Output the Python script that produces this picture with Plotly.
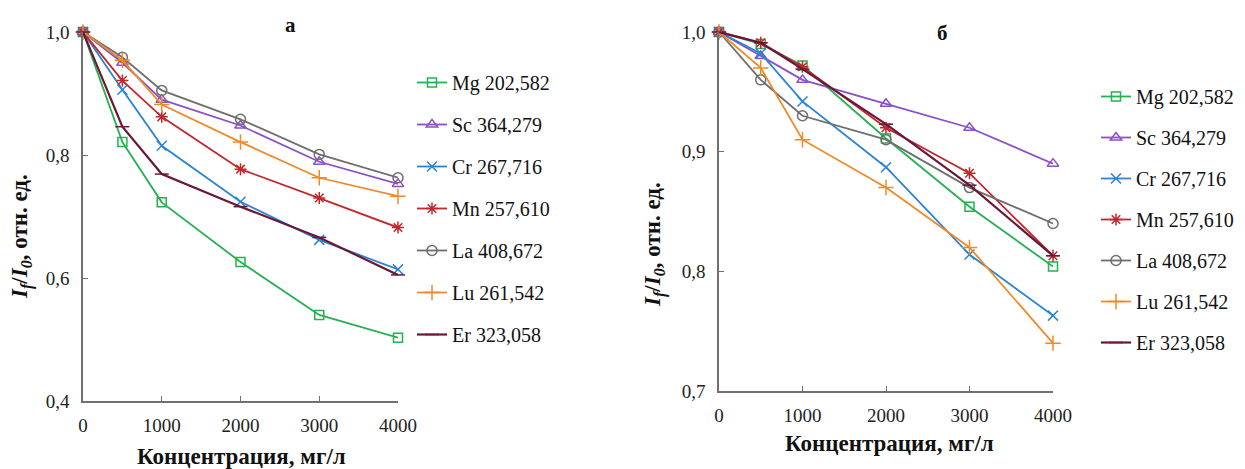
import plotly.graph_objects as go

conc = [0, 500, 1000, 2000, 3000, 4000]
names = ["Mg 202,582", "Sc 364,279", "Cr 267,716", "Mn 257,610", "La 408,672", "Lu 261,542", "Er 323,058"]

# panel a
a_Mg = [1.0, 0.821, 0.723, 0.626, 0.540, 0.503]
a_Sc = [1.0, 0.950, 0.890, 0.848, 0.789, 0.753]
a_Cr = [1.0, 0.906, 0.815, 0.724, 0.662, 0.614]
a_Mn = [1.0, 0.921, 0.862, 0.777, 0.730, 0.682]
a_La = [1.0, 0.959, 0.905, 0.858, 0.801, 0.763]
a_Lu = [1.0, 0.954, 0.882, 0.821, 0.763, 0.733]
a_Er = [1.0, 0.846, 0.769, 0.716, 0.666, 0.605]

# panel б
b_Mg = [1.0, 0.990, 0.972, 0.911, 0.854, 0.804]
b_Sc = [1.0, 0.980, 0.960, 0.940, 0.920, 0.890]
b_Cr = [1.0, 0.982, 0.942, 0.887, 0.814, 0.763]
b_Mn = [1.0, 0.991, 0.971, 0.920, 0.882, 0.813]
b_La = [1.0, 0.960, 0.930, 0.910, 0.870, 0.840]
b_Lu = [1.0, 0.970, 0.910, 0.870, 0.820, 0.740]
b_Er = [1.0, 0.991, 0.969, 0.923, 0.872, 0.813]

x_ticks = [0, 1000, 2000, 3000, 4000]
x_ticktext = ["0", "1000", "2000", "3000", "4000"]
a_yticks = [0.4, 0.6, 0.8, 1.0]
a_yticktext = ["0,4", "0,6", "0,8", "1,0"]
b_yticks = [0.7, 0.8, 0.9, 1.0]
b_yticktext = ["0,7", "0,8", "0,9", "1,0"]

colors = ["#25b14f", "#8b4fc6", "#2b84d2", "#c1272d", "#6e6e6e", "#f08a26", "#6b1738"]
symbols = ["square-open", "triangle-up-open", "x-thin-open", "asterisk-open",
           "circle-open", "cross-thin-open", "line-ew-open"]
sizes = [9, 10, 10, 10, 10, 11, 10]
lwidths = [1.8, 1.8, 1.8, 1.8, 1.8, 1.8, 2.2]

FONT = "Liberation Serif"
fig = go.Figure()

a_series = [a_Mg, a_Sc, a_Cr, a_Mn, a_La, a_Lu, a_Er]
b_series = [b_Mg, b_Sc, b_Cr, b_Mn, b_La, b_Lu, b_Er]

for i, (nm, ys) in enumerate(zip(names, a_series)):
    fig.add_trace(go.Scatter(
        x=conc, y=ys, name=nm, mode="lines+markers", xaxis="x", yaxis="y",
        line=dict(color=colors[i], width=lwidths[i]),
        marker=dict(symbol=symbols[i], size=sizes[i], color=colors[i],
                    line=dict(color=colors[i], width=1.5)),
        legend="legend", legendgroup="a" + str(i), cliponaxis=False))

for i, (nm, ys) in enumerate(zip(names, b_series)):
    fig.add_trace(go.Scatter(
        x=conc, y=ys, name=nm, mode="lines+markers", xaxis="x2", yaxis="y2",
        line=dict(color=colors[i], width=lwidths[i]),
        marker=dict(symbol=symbols[i], size=sizes[i], color=colors[i],
                    line=dict(color=colors[i], width=1.5)),
        legend="legend2", legendgroup="b" + str(i), cliponaxis=False))

# the page body margin is removed (see post_script), so the figure fills the window
W, H = 1245, 469

def px_x(p):
    return p / W

def px_y(p):
    return 1 - p / H

axis_common = dict(showgrid=False, zeroline=False, showline=True, linecolor="#707070",
                   linewidth=1.5, ticks="inside", ticklen=5, tickcolor="#707070",
                   automargin=False,
                   tickfont=dict(family=FONT, size=19, color="#222"), fixedrange=True)

fig.update_layout(
    template="none",
    width=W, height=H,
    margin=dict(l=0, r=0, t=0, b=0, autoexpand=False),
    paper_bgcolor="white", plot_bgcolor="white",
    font=dict(family=FONT, color="#111"),
    xaxis=dict(domain=[px_x(83), px_x(398)], range=[0, 4000], anchor="y",
               tickvals=x_ticks, ticktext=x_ticktext, ticklabelstandoff=6, **axis_common),
    yaxis=dict(domain=[px_y(401), px_y(32)], range=[0.4, 1.0], anchor="x",
               tickvals=a_yticks, ticktext=a_yticktext, ticklabelstandoff=8, **axis_common),
    xaxis2=dict(domain=[px_x(719), px_x(1053)], range=[0, 4000], anchor="y2",
                tickvals=x_ticks, ticktext=x_ticktext, ticklabelstandoff=6, **axis_common),
    yaxis2=dict(domain=[px_y(391), px_y(32)], range=[0.7, 1.0], anchor="x2",
                tickvals=b_yticks, ticktext=b_yticktext, ticklabelstandoff=8, **axis_common),
    legend=dict(x=px_x(412), y=px_y(63), xanchor="left", yanchor="top",
                font=dict(family=FONT, size=20, color="#111"),
                tracegroupgap=13, bgcolor="rgba(0,0,0,0)"),
    legend2=dict(x=px_x(1096), y=px_y(77), xanchor="left", yanchor="top",
                 font=dict(family=FONT, size=20, color="#111"),
                 tracegroupgap=12, bgcolor="rgba(0,0,0,0)"),
    showlegend=True,
)

ytitle = "<b><i>I<sub>f</sub></i>/<i>I<sub>0</sub></i>, отн. ед.</b>"
xtitle = "<b>Концентрация, мг/л</b>"

def ann(text, x, y, size, angle=0):
    return dict(text=text, x=px_x(x), y=px_y(y), xref="paper", yref="paper",
                xanchor="center", yanchor="middle", showarrow=False, textangle=angle,
                font=dict(family=FONT, size=size, color="#111"))

fig.update_layout(annotations=[
    ann("<b>а</b>", 290, 25, 21),
    ann("<b>б</b>", 942, 33, 21),
    ann(xtitle, 241, 456, 23),
    ann(xtitle, 889, 443, 23),
    ann(ytitle, 22, 237, 23, -90),
    ann(ytitle, 655, 245, 23, -90),
])

fig.write_html(
    "out.html",
    config={"displayModeBar": False},
    post_script="document.body.style.margin='0';document.body.style.overflow='hidden';",
)
